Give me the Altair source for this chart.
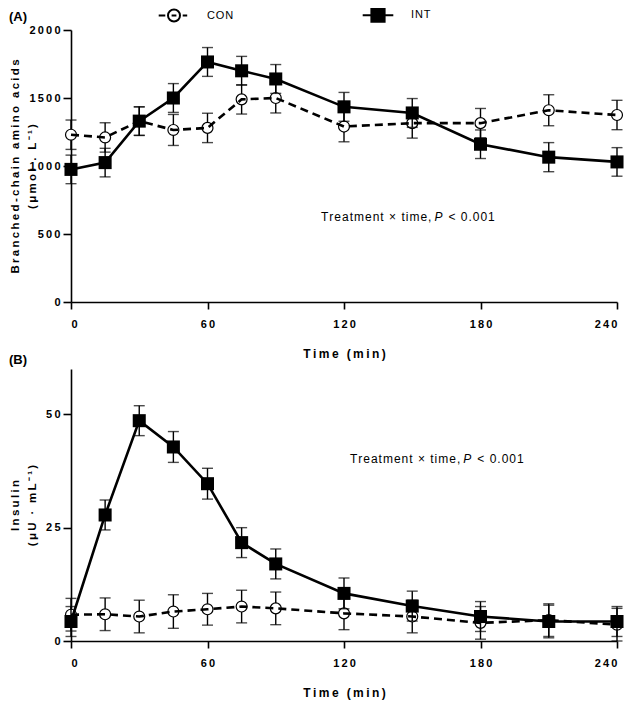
import altair as alt
import pandas as pd

# ---------------- data ----------------
time = [0, 15, 30, 45, 60, 75, 90, 120, 150, 180, 210, 240]

bcaa_con = [1230, 1210, 1330, 1265, 1280, 1490, 1500, 1290, 1315, 1315, 1410, 1375]
bcaa_con_err = [108, 108, 105, 114, 108, 108, 110, 112, 110, 108, 114, 108]
bcaa_int = [975, 1025, 1330, 1500, 1765, 1700, 1640, 1435, 1390, 1160, 1065, 1030]
bcaa_int_err = [105, 105, 105, 106, 106, 106, 106, 106, 106, 105, 107, 105]

ins_con = [5.8, 5.9, 5.4, 6.5, 7.0, 7.6, 7.2, 6.1, 5.4, 4.0, 4.6, 3.6]
ins_con_err = [3.6, 3.6, 3.6, 3.7, 3.5, 3.6, 3.6, 3.6, 3.6, 3.6, 3.6, 3.6]
ins_int = [4.3, 27.8, 48.6, 42.8, 34.7, 21.7, 17.0, 10.5, 7.7, 5.4, 4.3, 4.3]
ins_int_err = [3.3, 3.3, 3.3, 3.4, 3.4, 3.3, 3.3, 3.4, 3.3, 3.3, 3.6, 3.3]

series = ["CON", "INT"]
x_ticks = [0, 60, 120, 180, 240]
bcaa_ticks = [0, 500, 1000, 1500, 2000]
ins_ticks = [0, 25, 50]

FONT = "Liberation Sans"
HAIR = "\u200a"
THIN = "\u2009"


def sp(s, sep=HAIR):
    return sep.join(list(s))


def frame(con, con_err, itv, itv_err):
    rows = []
    for name, vals, errs in (("CON", con, con_err), ("INT", itv, itv_err)):
        for t, v, e in zip(time, vals, errs):
            rows.append({"time": t, "value": v, "lo": v - e, "hi": v + e, "series": name})
    return pd.DataFrame(rows)


dfA = frame(bcaa_con, bcaa_con_err, bcaa_int, bcaa_int_err)
dfB = frame(ins_con, ins_con_err, ins_int, ins_int_err)

W = 546

con_path = ("M1,0 A1,1 0 1,1 -1,0 A1,1 0 1,1 1,0 Z "
            "M-2.55,0 L-1.45,0 M1.45,0 L2.2,0 M-0.4,0 L0.4,0")
int_path = ("M-1.1,-1.1 L1.1,-1.1 L1.1,1.1 L-1.1,1.1 Z "
            "M-2.55,0 L-1.1,0 M1.1,0 L2.55,0")

tick_expr = "join(split(toString(datum.value), ''), '\u2009')"
leg_expr = "join(split(datum.label, ''), '\u200a')"


def panel(df, ymax, H, yticks, ytitle, ptitle, poffset, ann_x, ann_y, with_legend):
    xenc = alt.X("time:Q", scale=alt.Scale(domain=[0, 240], nice=False, zero=False),
                 axis=alt.Axis(values=x_ticks, title=sp("Time (min)", THIN), labelExpr=tick_expr))
    yenc = alt.Y("value:Q", scale=alt.Scale(domain=[0, ymax], nice=False),
                 axis=alt.Axis(values=yticks, title=ytitle, labelExpr=tick_expr,
                               titleX=-51, titleLineHeight=17))
    base = alt.Chart(df)
    layers = []
    for name in series:
        sub = base.transform_filter(alt.datum.series == name)
        err = sub.mark_rule(color="black", strokeWidth=1.4).encode(
            x="time:Q", y="lo:Q", y2="hi:Q")
        cap_lo = sub.mark_tick(color="black", orient="horizontal", size=11, thickness=1.4).encode(
            x="time:Q", y="lo:Q")
        cap_hi = sub.mark_tick(color="black", orient="horizontal", size=11, thickness=1.4).encode(
            x="time:Q", y="hi:Q")
        if name == "CON":
            pts = sub.mark_point(shape="circle", size=120, filled=True, fill="white",
                                 stroke="black", strokeWidth=1.2, opacity=1).encode(x=xenc, y=yenc)
            line = sub.mark_line(color="black", strokeWidth=2.6, strokeDash=[8, 5]).encode(
                x="time:Q", y="value:Q")
            layers += [err, cap_lo, cap_hi, pts, line]
        else:
            line = sub.mark_line(color="black", strokeWidth=2.6).encode(x="time:Q", y="value:Q")
            pts = sub.mark_point(shape="square", size=170, filled=True, color="black",
                                 opacity=1).encode(x="time:Q", y="value:Q")
            layers += [err, cap_lo, cap_hi, line, pts]

    ann = alt.Chart(pd.DataFrame({"a": [0]}))
    t1 = ann.mark_text(text=sp("Treatment × time,"), align="right", dx=-7, font=FONT,
                       fontSize=12, color="black").encode(x=alt.datum(ann_x), y=alt.datum(ann_y))
    t2 = ann.mark_text(text="P", align="center", font=FONT, fontSize=12, fontStyle="italic",
                       color="black").encode(x=alt.datum(ann_x), y=alt.datum(ann_y))
    t3 = ann.mark_text(text=sp("< 0.001"), align="left", dx=10, font=FONT, fontSize=12,
                       color="black").encode(x=alt.datum(ann_x), y=alt.datum(ann_y))
    layers += [t1, t2, t3]

    if with_legend:
        leg_df = pd.DataFrame({"series": series})
        lg = alt.Legend(title=None, orient="none", legendX=96, legendY=-22, direction="horizontal",
                        symbolSize=144, symbolStrokeWidth=2, labelOffset=26, columnPadding=124,
                        labelFont=FONT, labelFontSize=11, labelColor="black",
                        labelExpr=leg_expr, padding=0)
        legl = alt.Chart(leg_df).transform_filter("false").mark_point(
            filled=True, strokeWidth=2, opacity=1, size=144).encode(
            x="time:Q", y="value:Q",
            shape=alt.Shape("series:N", scale=alt.Scale(domain=series, range=[con_path, int_path]),
                            legend=lg),
            fill=alt.Fill("series:N", scale=alt.Scale(domain=series, range=["white", "black"]),
                          legend=lg),
            stroke=alt.Stroke("series:N", scale=alt.Scale(domain=series, range=["black", "black"]),
                              legend=lg))
        layers.append(legl)

    return alt.layer(*layers).properties(
        width=W, height=H,
        title=alt.TitleParams(ptitle, anchor="start", frame="bounds", font=FONT, fontSize=13,
                              fontWeight="bold", color="black", offset=poffset))


pA = panel(dfA, 2000, 272, bcaa_ticks,
           [sp("Branched-chain amino acids", THIN), sp("(μmol . L⁻¹)", THIN)], "(A)", 0,
           161.5, 626, True)
pB = panel(dfB, 60, 272, ins_ticks,
           [sp("Insulin", THIN), sp("(μU · mL⁻¹)", THIN)], "(B)", 2,
           174.2, 40.1, False)

chart = alt.vconcat(pA, pB, spacing=-5).properties(
    padding={"left": 0, "top": 0, "right": 0, "bottom": 10}
).configure_view(stroke=None).configure_axis(
    grid=False, domainColor="black", domainWidth=1.6, tickColor="black", tickWidth=1.6,
    labelFont=FONT, labelFontSize=11, labelFontWeight="bold", labelColor="black",
    titleFont=FONT, titleFontWeight="bold", titleColor="black"
).configure_axisX(tickSize=7, labelPadding=9, titlePadding=19, titleFontSize=12
).configure_axisY(tickSize=8, labelPadding=3, titleFontSize=11.5)

chart.save("out.html", embed_options={"renderer": "svg", "actions": False})
